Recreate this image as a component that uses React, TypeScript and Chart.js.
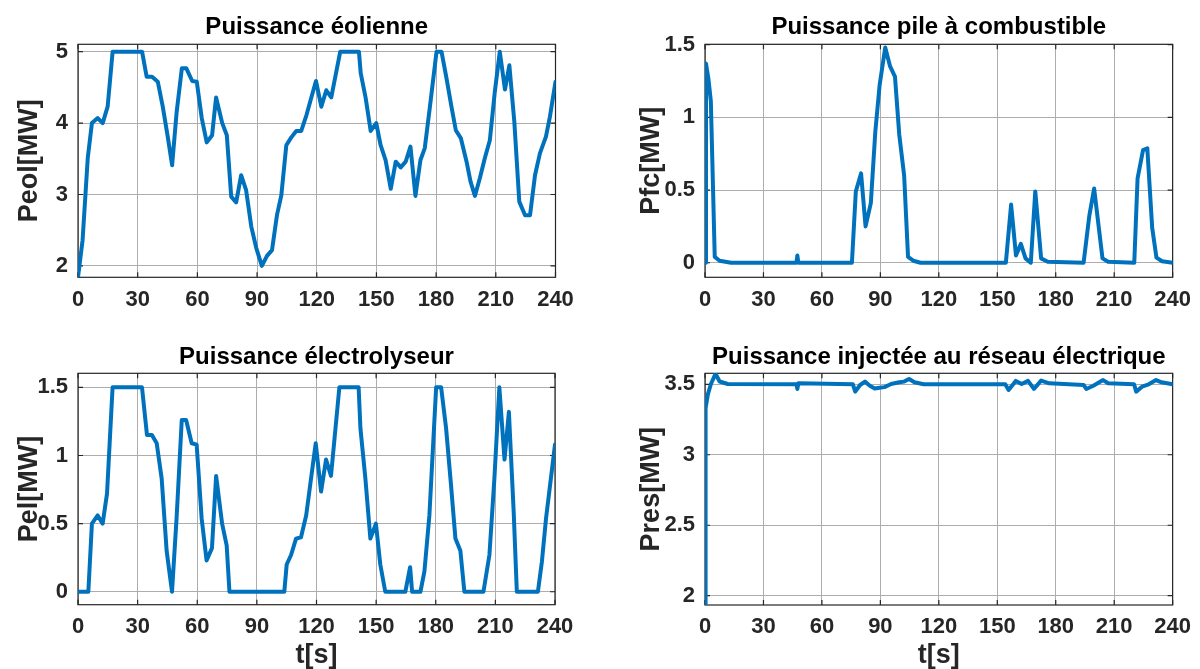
import React, { useEffect, useRef } from 'react';
import { Chart, registerables } from 'chart.js';

Chart.register(...registerables);

const FONT = '"Liberation Sans", Arial, Helvetica, sans-serif';

// ---------- data ----------
const xTickValues = [0, 30, 60, 90, 120, 150, 180, 210, 240];

const tEol = [0, 2.3, 4.9, 7, 9.9, 12.4, 14.9, 17.4, 32.2, 34.5, 37.2, 40.1, 42.6, 45.1, 47.3, 49.6, 52.2, 54.4, 57.4, 59.7, 62.2, 64.7, 67.4, 69.4, 72.5, 74.8, 77, 79.5, 82, 84.5, 87.1, 89.6, 92.4, 95, 97.5, 100, 102.2, 104.7, 107.2, 109.7, 112.2, 114.8, 119.6, 122.3, 124.8, 127.3, 131.8, 141.2, 142.1, 144.6, 147.1, 149.9, 152.1, 154.6, 157.2, 159.7, 162.2, 164.7, 167.1, 169.6, 172.1, 174.3, 176.8, 180.2, 182.7, 185.2, 187.7, 189.9, 192.4, 195.3, 197.3, 199.5, 202, 204.5, 207, 209.5, 212, 214.6, 216.8, 219.3, 221.8, 224.7, 227.2, 229.7, 232.2, 235.2, 237.2, 240];
const pEol = [1.84, 2.36, 3.51, 4.0, 4.07, 4.0, 4.23, 5.0, 5.0, 4.65, 4.65, 4.58, 4.23, 3.81, 3.41, 4.16, 4.77, 4.77, 4.59, 4.58, 4.07, 3.73, 3.83, 4.36, 4.0, 3.83, 2.97, 2.89, 3.27, 3.06, 2.55, 2.25, 2.0, 2.14, 2.22, 2.71, 2.99, 3.69, 3.8, 3.89, 3.89, 4.11, 4.59, 4.23, 4.46, 4.36, 5.0, 5.0, 4.7, 4.35, 3.89, 4.0, 3.69, 3.48, 3.08, 3.46, 3.38, 3.46, 3.67, 2.98, 3.48, 3.65, 4.21, 5.0, 5.0, 4.63, 4.23, 3.9, 3.79, 3.46, 3.18, 2.98, 3.23, 3.51, 3.76, 4.44, 5.0, 4.47, 4.81, 4.02, 2.9, 2.71, 2.71, 3.27, 3.58, 3.81, 4.09, 4.58];

const tFc = [0, 0.5, 1.7, 3, 5, 7.5, 13.4, 46.9, 47.4, 47.9, 75.4, 77.4, 80.1, 82.4, 85.1, 87.4, 89.6, 92.5, 95, 97.5, 99.7, 102.2, 104.2, 106.9, 110.6, 154.4, 157.1, 159.6, 162.1, 164.5, 167.2, 169.5, 172.5, 175.9, 194.3, 197.2, 199.7, 204, 206.9, 220.3, 222, 224.8, 227, 229.5, 231.7, 234.6, 240];
const pFc = [0, 1.37, 1.27, 1.11, 0.04, 0.014, 0, 0, 0.05, 0, 0, 0.49, 0.615, 0.25, 0.41, 0.9, 1.22, 1.48, 1.35, 1.28, 0.88, 0.6, 0.04, 0.014, 0, 0, 0.4, 0.05, 0.13, 0.03, 0, 0.49, 0.03, 0.007, 0, 0.32, 0.51, 0.03, 0.007, 0, 0.58, 0.775, 0.787, 0.24, 0.035, 0.01, 0];

const tEl = [0, 5.2, 7, 9.9, 12.4, 14.6, 17.4, 32.2, 34.7, 37.2, 39.6, 42.1, 44.6, 47.3, 49.6, 52.2, 54.4, 57.2, 59.7, 62.2, 64.7, 67.4, 69.5, 72.5, 74.8, 76.2, 103.8, 105, 107.2, 109.7, 112.2, 114.8, 119.6, 122.3, 124.8, 127.3, 131.5, 141.2, 142.1, 144.6, 147.1, 149.9, 152.1, 154.6, 164.7, 167.1, 168.1, 172.3, 174.3, 176.8, 180.2, 182.7, 185.2, 187.7, 189.9, 192.4, 194.4, 204, 207, 209.5, 212, 214.6, 216.8, 219.2, 220.8, 231.4, 233.4, 235.5, 240];
const pEl = [0, 0, 0.5, 0.56, 0.5, 0.72, 1.5, 1.5, 1.15, 1.15, 1.09, 0.83, 0.3, 0, 0.54, 1.26, 1.26, 1.09, 1.08, 0.54, 0.23, 0.32, 0.85, 0.5, 0.34, 0, 0, 0.2, 0.27, 0.39, 0.4, 0.56, 1.09, 0.735, 0.97, 0.85, 1.5, 1.5, 1.2, 0.83, 0.39, 0.5, 0.2, 0, 0, 0.18, 0, 0, 0.15, 0.56, 1.5, 1.5, 1.2, 0.78, 0.39, 0.3, 0, 0, 0.27, 0.83, 1.5, 0.97, 1.32, 0.59, 0, 0, 0.22, 0.54, 1.08];

const tRes = [0, 0.3, 1.5, 3, 5.4, 7.5, 11.7, 46.9, 47.4, 47.9, 75.9, 77.1, 79.6, 82.1, 84.6, 87.1, 89.6, 92.1, 95.5, 99.7, 102.2, 104.7, 107.5, 112.2, 154.1, 155.8, 159.5, 162.5, 165.8, 168.8, 172.5, 176.7, 194.3, 195.7, 199.3, 204.3, 206.9, 220.2, 221.3, 224.3, 227.7, 231.5, 234.3, 240];
const pRes = [1.935, 3.33, 3.43, 3.5, 3.575, 3.52, 3.502, 3.5, 3.467, 3.507, 3.5, 3.448, 3.495, 3.519, 3.49, 3.47, 3.476, 3.48, 3.502, 3.514, 3.519, 3.538, 3.514, 3.5, 3.5, 3.46, 3.524, 3.502, 3.524, 3.467, 3.526, 3.507, 3.495, 3.467, 3.49, 3.53, 3.507, 3.5, 3.448, 3.483, 3.5, 3.53, 3.514, 3.5];

const yTicksEol = [2, 3, 4, 5];
const yTicksFc = [0, 0.5, 1, 1.5];
const yTicksEl = [0, 0.5, 1, 1.5];
const yTicksRes = [2, 2.5, 3, 3.5];

// ---------- layout ----------
type Cfg = {
  left: number; top: number; w: number; h: number;
  area: { l: number; t: number; r: number; b: number };
  titleCenter: number; yTitleCenter: number;
  title: string; yTitle: string; xTitle?: string;
  t: number[]; v: number[]; yTicks: number[]; yMin: number; yMax: number;
};

const panels: Cfg[] = [
  { left: 0, top: 0, w: 600, h: 335, area: { l: 78, t: 44.3, r: 555.5, b: 277.3 }, titleCenter: 27, yTitleCenter: 30,
    title: 'Puissance éolienne', yTitle: 'Peol[MW]', t: tEol, v: pEol, yTicks: yTicksEol, yMin: 1.84, yMax: 5.104 },
  { left: 600, top: 0, w: 600, h: 335, area: { l: 105, t: 44.3, r: 582.3, b: 277.3 }, titleCenter: 27, yTitleCenter: 52,
    title: 'Puissance pile à combustible', yTitle: 'Pfc[MW]', t: tFc, v: pFc, yTicks: yTicksFc, yMin: -0.1, yMax: 1.502 },
  { left: 0, top: 335, w: 600, h: 334, area: { l: 78, t: 38.3, r: 555, b: 269.7 }, titleCenter: 22, yTitleCenter: 30,
    title: 'Puissance électrolyseur', yTitle: 'Pel[MW]', xTitle: 't[s]', t: tEl, v: pEl, yTicks: yTicksEl, yMin: -0.095, yMax: 1.603 },
  { left: 600, top: 335, w: 600, h: 334, area: { l: 105, t: 38.3, r: 582, b: 270 }, titleCenter: 22, yTitleCenter: 52,
    title: 'Puissance injectée au réseau électrique', yTitle: 'Pres[MW]', xTitle: 't[s]', t: tRes, v: pRes, yTicks: yTicksRes, yMin: 1.934, yMax: 3.578 },
];

const boxPlugin = {
  id: 'matlabBox',
  beforeDatasetsDraw(chart: any) {
    const { ctx, chartArea: a, scales } = chart;
    ctx.save();
    ctx.strokeStyle = '#262626';
    ctx.lineWidth = 1.2;
    ctx.strokeRect(a.left, a.top, a.right - a.left, a.bottom - a.top);
    const L = 5;
    ctx.beginPath();
    for (const tk of scales.x.ticks) {
      const px = scales.x.getPixelForValue(tk.value);
      ctx.moveTo(px, a.bottom); ctx.lineTo(px, a.bottom - L);
      ctx.moveTo(px, a.top); ctx.lineTo(px, a.top + L);
    }
    for (const tk of scales.y.ticks) {
      const py = scales.y.getPixelForValue(tk.value);
      ctx.moveTo(a.left, py); ctx.lineTo(a.left + L, py);
      ctx.moveTo(a.right, py); ctx.lineTo(a.right - L, py);
    }
    ctx.stroke();
    ctx.restore();
  },
};

function Panel({ cfg }: { cfg: Cfg }) {
  const ref = useRef<HTMLCanvasElement>(null);
  useEffect(() => {
    const canvas = ref.current;
    if (!canvas) return;
    const a = cfg.area;
    const tickFont = { family: FONT, size: 22, weight: 'bold' as const, lineHeight: 1.2 };
    const titleSize = 24;
    const titleLH = titleSize * 1.2;
    const tPadTop = cfg.titleCenter - titleLH / 2;
    const tPadBottom = a.t - tPadTop - titleLH;
    const axisTitleSize = 27;
    const axisTitleFont = { family: FONT, size: axisTitleSize, weight: 'bold' as const, lineHeight: 1 };
    const chart = new Chart(canvas, {
      type: 'line',
      data: {
        datasets: [{
          data: cfg.t.map((x, i) => ({ x, y: cfg.v[i] })),
          borderColor: '#0072BD',
          borderWidth: 4,
          pointRadius: 0,
          tension: 0,
          fill: false,
          borderJoinStyle: 'round',
          borderCapStyle: 'round',
        }],
      },
      options: {
        animation: false,
        responsive: false,
        devicePixelRatio: 1,
        layout: { autoPadding: false, padding: { left: 0, top: 0, bottom: 0, right: cfg.w - a.r } },
        plugins: {
          legend: { display: false },
          tooltip: { enabled: false },
          title: {
            display: true,
            text: cfg.title,
            fullSize: false,
            color: '#000000',
            font: { family: FONT, size: titleSize, weight: 'bold', lineHeight: 1.2 },
            padding: { top: tPadTop, bottom: tPadBottom },
          },
        },
        scales: {
          x: {
            type: 'linear',
            min: 0,
            max: 240,
            afterBuildTicks: (s: any) => { s.ticks = xTickValues.map((v) => ({ value: v })); },
            afterFit: (s: any) => { s.height = cfg.h - a.b; },
            grid: { color: '#adadad', lineWidth: 1, drawTicks: false },
            border: { display: false },
            ticks: { font: tickFont, color: '#262626', padding: 9, autoSkip: false, maxRotation: 0, callback: (v: any) => String(v) },
            title: cfg.xTitle
              ? { display: true, text: cfg.xTitle, color: '#262626', font: axisTitleFont, padding: { top: 0, bottom: 0 } }
              : { display: false },
          },
          y: {
            type: 'linear',
            min: cfg.yMin,
            max: cfg.yMax,
            afterBuildTicks: (s: any) => { s.ticks = cfg.yTicks.map((v) => ({ value: v })); },
            afterFit: (s: any) => { s.width = a.l; },
            grid: { color: '#adadad', lineWidth: 1, drawTicks: false },
            border: { display: false },
            ticks: { font: tickFont, color: '#262626', padding: 10, callback: (v: any) => String(v) },
            title: { display: true, text: cfg.yTitle, color: '#262626', font: axisTitleFont, padding: { top: cfg.yTitleCenter - axisTitleSize / 2, bottom: 0 } },
          },
        },
      } as any,
      plugins: [boxPlugin],
    });
    return () => chart.destroy();
  }, [cfg]);
  return (
    <canvas
      ref={ref}
      width={cfg.w}
      height={cfg.h}
      style={{ position: 'absolute', left: cfg.left, top: cfg.top, width: cfg.w, height: cfg.h }}
    />
  );
}

export default function App() {
  return (
    <div style={{ position: 'fixed', left: 0, top: 0, width: 1200, height: 669, background: '#ffffff', overflow: 'hidden' }}>
      {panels.map((p, i) => <Panel key={i} cfg={p} />)}
    </div>
  );
}
